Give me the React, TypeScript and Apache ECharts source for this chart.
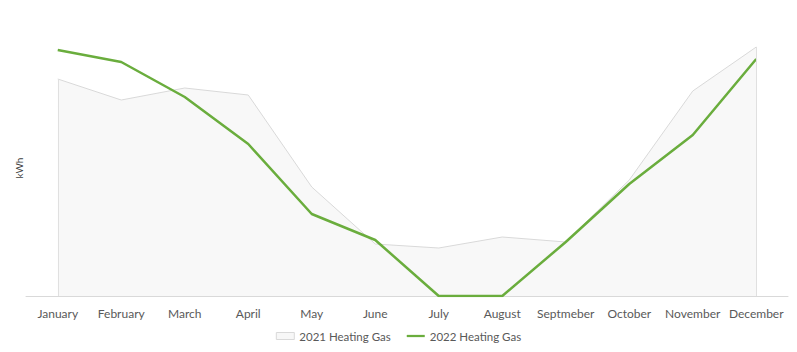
import React, { useEffect, useRef } from "react";
import * as echarts from "echarts";

const months = ["January", "February", "March", "April", "May", "June", "July", "August", "Septmeber", "October", "November", "December"];
const gas2021 = [2170, 1960, 2080, 2010, 1090, 520, 480, 590, 540, 1160, 2050, 2490];
const gas2022 = [2460, 2340, 1990, 1520, 820, 560, 0, 0, 540, 1120, 1610, 2370];
const seriesNames = ["2021 Heating Gas", "2022 Heating Gas"];

export default function App() {
  const ref = useRef<HTMLDivElement>(null);
  useEffect(() => {
    if (!ref.current) return;
    const chart = echarts.init(ref.current, null, { renderer: "svg" });
    const font = "Lato, 'Open Sans', sans-serif";
    const last = months.length - 1;
    chart.setOption({
      animation: false,
      textStyle: { fontFamily: font },
      grid: { left: 26, right: 9, top: 40, bottom: 56 },
      legend: {
        bottom: 5,
        left: "center",
        itemGap: 16,
        itemWidth: 18,
        itemHeight: 7,
        textStyle: { color: "#595959", fontSize: 11.5, fontFamily: font },
        data: [
          { name: seriesNames[0], icon: "rect", itemStyle: { color: "#f7f7f7", borderColor: "#d9d9d9", borderWidth: 1 } },
          { name: seriesNames[1], icon: "path://M0,0 L20,0 L20,2.5 L0,2.5 Z", itemStyle: { color: "#6aad3d" } },
        ],
      },
      xAxis: {
        type: "category",
        data: months,
        boundaryGap: true,
        axisLine: { lineStyle: { color: "#d9d9d9", width: 1 } },
        axisTick: { show: false },
        axisLabel: { color: "#595959", fontSize: 12, margin: 11, interval: 0, fontFamily: font },
      },
      yAxis: {
        type: "value",
        min: 0,
        max: 2560,
        name: "kWh",
        nameLocation: "middle",
        nameGap: 2,
        nameTextStyle: { color: "#404040", fontSize: 10, fontFamily: font },
        axisLabel: { show: false },
        axisLine: { show: false },
        axisTick: { show: false },
        splitLine: { show: false },
      },
      series: [
        {
          name: seriesNames[0],
          type: "line",
          data: gas2021,
          symbol: "none",
          lineStyle: { color: "#d9d9d9", width: 1 },
          itemStyle: { color: "#d9d9d9" },
          areaStyle: { color: "#f8f8f8", opacity: 1 },
          z: 1,
          markLine: {
            silent: true,
            symbol: "none",
            label: { show: false },
            lineStyle: { color: "#e0e0e0", width: 1, type: "solid" },
            data: [
              [{ coord: [0, 0] }, { coord: [0, gas2021[0]] }],
              [{ coord: [last, 0] }, { coord: [last, gas2021[last]] }],
            ],
          },
        },
        {
          name: seriesNames[1],
          type: "line",
          data: gas2022,
          symbol: "none",
          lineStyle: { color: "#6aad3d", width: 2.5 },
          itemStyle: { color: "#6aad3d" },
          z: 3,
        },
      ],
    });
    return () => chart.dispose();
  }, []);
  return <div ref={ref} style={{ position: "absolute", left: 0, top: 0, width: 797, height: 352 }} />;
}
